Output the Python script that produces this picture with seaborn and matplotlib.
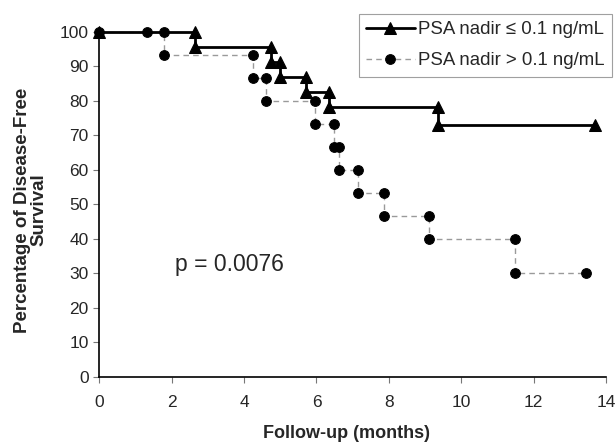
import matplotlib
matplotlib.use("Agg")
import matplotlib.pyplot as plt
import seaborn as sns
import pandas as pd

# Kaplan-Meier step points (months, % disease-free)
low_x = [0, 2.65, 2.65, 4.75, 4.75, 5.0, 5.0, 5.7, 5.7, 6.35, 6.35, 9.35, 9.35, 13.7]
low_y = [100, 100, 95.7, 95.7, 91.3, 91.3, 87.0, 87.0, 82.6, 82.6, 78.3, 78.3, 73.0, 73.0]

high_x = [0, 1.33, 1.78, 1.78, 4.24, 4.24, 4.61, 4.61, 5.97, 5.97, 6.48, 6.48,
          6.63, 6.63, 7.14, 7.14, 7.86, 7.86, 9.1, 9.1, 11.47, 11.47, 13.45]
high_y = [100, 100, 100, 93.3, 93.3, 86.7, 86.7, 80.0, 80.0, 73.3, 73.3, 66.7,
          66.7, 60.0, 60.0, 53.3, 53.3, 46.7, 46.7, 40.0, 40.0, 30.0, 30.0]

low_label = "PSA nadir \u2264 0.1 ng/mL"
high_label = "PSA nadir > 0.1 ng/mL"

low_df = pd.DataFrame({"x": low_x, "y": low_y})
high_df = pd.DataFrame({"x": high_x, "y": high_y})

sns.set_style("ticks")
plt.rcParams["font.family"] = ["Liberation Sans", "DejaVu Sans"]

fig = plt.figure(figsize=(6.16, 4.43), dpi=100)
ax = fig.add_axes([0.161, 0.149, 0.823, 0.779])

sns.lineplot(data=high_df, x="x", y="y", sort=False, estimator=None, ax=ax,
             color="#9a9a9a", linewidth=1, linestyle=(0, (4, 3)),
             marker="o", markersize=7, markerfacecolor="black",
             markeredgecolor="black", label=high_label, zorder=2)
sns.lineplot(data=low_df, x="x", y="y", sort=False, estimator=None, ax=ax,
             color="black", linewidth=2, marker="^", markersize=8,
             markerfacecolor="black", markeredgecolor="black",
             label=low_label, zorder=3)

ax.set_xlim(0, 14)
ax.set_ylim(0, 100)
ax.set_xticks(range(0, 15, 2))
ax.set_yticks(range(0, 101, 10))
ax.tick_params(labelsize=12.5, length=4, width=0.8, color="#777777")
ax.tick_params(axis="x", pad=9)
for s in ["top", "right"]:
    ax.spines[s].set_visible(False)
for s in ["left", "bottom"]:
    ax.spines[s].set_linewidth(1.2)
    ax.spines[s].set_color("black")
for m in [ax.lines[0], ax.lines[1]]:
    m.set_clip_on(False)

ax.set_xlabel("Follow-up (months)", fontsize=13, fontweight="bold")
ax.xaxis.set_label_coords(0.487, -0.165)
ax.xaxis.label.set_va("center")
ax.set_ylabel("Percentage of Disease-Free\nSurvival", fontsize=13.5,
              fontweight="bold")
ax.yaxis.label.set_linespacing(1.0)
ax.yaxis.label.set_multialignment("center")
ax.yaxis.set_label_coords(-0.135, 0.484)
ax.yaxis.label.set_va("center")

ax.text(2.1, 32.5, "p = 0.0076", fontsize=16.5, va="center", ha="left")

handles, labels = ax.get_legend_handles_labels()
leg = ax.legend(handles[::-1], labels[::-1], loc="upper right",
                bbox_to_anchor=(1.012, 1.052), fontsize=13.4, frameon=True,
                fancybox=False, edgecolor="#888888", handlelength=2.6,
                borderpad=0.4, labelspacing=0.75, handletextpad=0.2,
                borderaxespad=0)
leg.get_frame().set_linewidth(0.8)

fig.savefig("out.png", dpi=100)
